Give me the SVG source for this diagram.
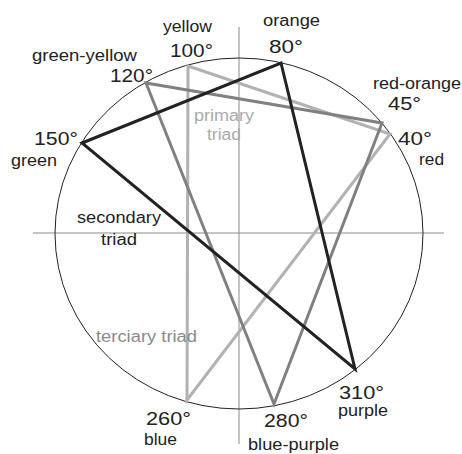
<svg xmlns="http://www.w3.org/2000/svg" width="462" height="454" viewBox="0 0 462 454">
<style>
.ax{stroke:#8a8a8a;stroke-width:1;fill:none}
.circ{stroke:#222;stroke-width:1;fill:none}
.tri{fill:none;stroke-width:3;stroke-linejoin:miter}
.p{stroke:#b2b2b2}
.s{stroke:#222}
.t{stroke:#808080}
text{font-family:"Liberation Sans",Arial,sans-serif;fill:#222}
.nm{font-size:16px}
.dg{font-size:19px}
.lp{fill:#aaaaaa;font-size:16px}
.lt{fill:#8a8a8a;font-size:16px}
.ls{fill:#222;font-size:16px}
</style>
<rect width="462" height="454" fill="#fff"/>
<g id="axes">
<line class="ax" x1="33" y1="233" x2="444" y2="233"/>
<line class="ax" x1="239" y1="27" x2="239" y2="444"/>
<ellipse class="circ" cx="239" cy="233.5" rx="184" ry="175.5"/>
</g>
<g id="connectors">
<polygon class="tri p" points="188,66 390,134 187,400"/>
<polygon class="tri t" points="146,83 382,123 274,404"/>
<polygon class="tri s" points="82,143 281,63 355,369"/>
</g>
<g id="n100"><text class="nm" x="163" y="32" textLength="49" lengthAdjust="spacingAndGlyphs">yellow</text><text class="dg" x="170" y="57" textLength="43" lengthAdjust="spacingAndGlyphs">100°</text></g>
<g id="n120"><text class="nm" x="32" y="61" textLength="105" lengthAdjust="spacingAndGlyphs">green-yellow</text><text class="dg" x="110" y="82" textLength="43" lengthAdjust="spacingAndGlyphs">120°</text></g>
<g id="n150"><text class="dg" x="34" y="145" textLength="44" lengthAdjust="spacingAndGlyphs">150°</text><text class="nm" x="11" y="166" textLength="46" lengthAdjust="spacingAndGlyphs">green</text></g>
<g id="n80"><text class="nm" x="263" y="26" textLength="57" lengthAdjust="spacingAndGlyphs">orange</text><text class="dg" x="269" y="53" textLength="34" lengthAdjust="spacingAndGlyphs">80°</text></g>
<g id="n45"><text class="nm" x="373" y="89" textLength="88" lengthAdjust="spacingAndGlyphs">red-orange</text><text class="dg" x="388" y="110" textLength="33" lengthAdjust="spacingAndGlyphs">45°</text></g>
<g id="n40"><text class="dg" x="398" y="145" textLength="34" lengthAdjust="spacingAndGlyphs">40°</text><text class="nm" x="419" y="165" textLength="25" lengthAdjust="spacingAndGlyphs">red</text></g>
<g id="n260"><text class="dg" x="146" y="425" textLength="45" lengthAdjust="spacingAndGlyphs">260°</text><text class="nm" x="144" y="445" textLength="33" lengthAdjust="spacingAndGlyphs">blue</text></g>
<g id="n280"><text class="dg" x="264" y="427" textLength="44" lengthAdjust="spacingAndGlyphs">280°</text><text class="nm" x="248" y="450" textLength="91" lengthAdjust="spacingAndGlyphs">blue-purple</text></g>
<g id="n310"><text class="dg" x="339" y="399" textLength="45" lengthAdjust="spacingAndGlyphs">310°</text><text class="nm" x="338" y="416" textLength="50" lengthAdjust="spacingAndGlyphs" font-size="15">purple</text></g>
<g id="labels">
<text class="lp" x="194" y="121" textLength="60" lengthAdjust="spacingAndGlyphs">primary</text>
<text class="lp" x="207" y="140" textLength="34" lengthAdjust="spacingAndGlyphs">triad</text>
<text class="ls" x="77" y="223" textLength="84" lengthAdjust="spacingAndGlyphs">secondary</text>
<text class="ls" x="101" y="245" textLength="36" lengthAdjust="spacingAndGlyphs">triad</text>
<text class="lt" x="96" y="342" textLength="101" lengthAdjust="spacingAndGlyphs">terciary triad</text>
</g>
</svg>
